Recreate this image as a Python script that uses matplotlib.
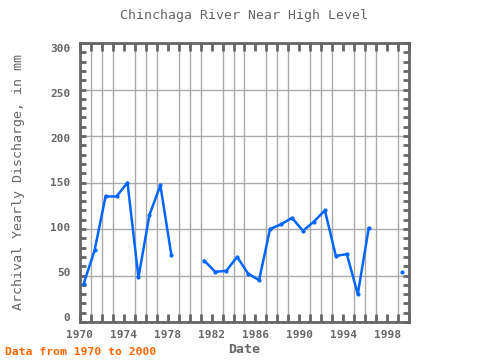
import numpy as np
from matplotlib import pyplot as plt
from matplotlib import transforms
from matplotlib.ticker import MultipleLocator

years = [1970, 1971, 1972, 1973, 1974, 1975, 1976, 1977, 1978, 1979,
         1980, 1981, 1982, 1983, 1984, 1985, 1986, 1987, 1988, 1989,
         1990, 1991, 1992, 1993, 1994, 1995, 1996, 1997, 1998, 1999]
discharge = [41, 77, 135, 135, 150, 48, 115, 147, 72, np.nan,
             np.nan, 66, 54, 55, 70, 52, 45, 100, 105, 112,
             98, 108, 120, 71, 73, 30, 101, np.nan, np.nan, 54]
x_ticks = [1970, 1974, 1978, 1982, 1986, 1990, 1994, 1998]
y_ticks = [0, 50, 100, 150, 200, 250, 300]

grey = '#666666'
plt.rcParams['font.family'] = ['DejaVu Sans Mono']

fig = plt.figure(figsize=(4.8, 3.6), dpi=100)
ax = fig.add_axes([80 / 480, 1 - 322 / 360, 329 / 480, 279 / 360])

# points sit about a third of a year after the tick
x = np.array(years) + 0.33
ax.plot(x, discharge, color='#0066ff', lw=1.8, marker='o', ms=2)

ax.set_xlim(1970, 2000)
ax.set_ylim(0, 300)
ax.set_xticks(x_ticks)
ax.set_yticks(y_ticks)
ax.xaxis.set_minor_locator(MultipleLocator(1))
ax.yaxis.set_minor_locator(MultipleLocator(10))
ax.grid(True, which='major', axis='y', color='#aaaaaa', lw=1)
ax.grid(True, which='minor', axis='x', color='#aaaaaa', lw=1)
ax.set_axisbelow(True)

ax.tick_params(which='both', direction='in', top=True, right=True,
               color=grey, labelcolor=grey, labelsize=8, width=2)
ax.tick_params(axis='x', which='both', length=6, pad=6)
ax.tick_params(axis='y', which='both', length=4, pad=7)
# y labels sit a little inside the range in the original
for v, lab in zip(y_ticks, ax.get_yticklabels()):
    dy = (5 - 10 * v / 300) / 100
    lab.set_transform(lab.get_transform() + transforms.ScaledTranslation(0, dy, fig.dpi_scale_trans))
for lab in ax.get_xticklabels() + ax.get_yticklabels():
    lab.set_fontweight('bold')
for s in ax.spines.values():
    s.set_color(grey)
    s.set_linewidth(2)

ax.set_title('Chinchaga River Near High Level', color=grey, fontsize=9.5, pad=17)
ax.set_xlabel('Date', color=grey, fontsize=9.5, fontweight='bold', labelpad=2)
ax.set_ylabel('Archival Yearly Discharge, in mm', color=grey, fontsize=9.6, labelpad=18)
fig.text(5 / 480, 1 - 352 / 360, 'Data from 1970 to 2000', color='#ff6600',
         fontsize=8.2, fontweight='bold', va='center')

fig.savefig('out.png', dpi=100)
